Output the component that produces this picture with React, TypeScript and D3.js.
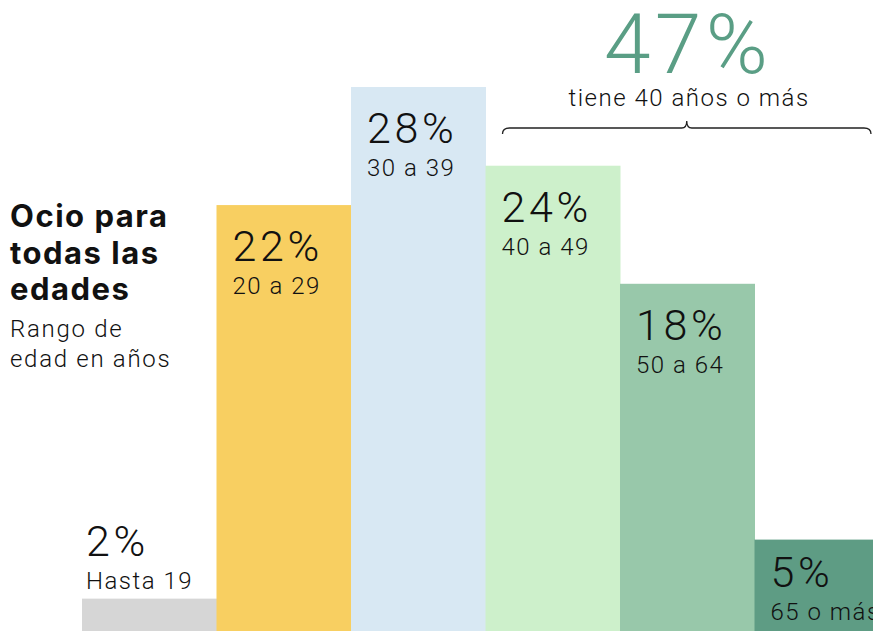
import * as d3 from "d3";

// Age ranges and share of each (in %)
const ranges = ["Hasta 19", "20 a 29", "30 a 39", "40 a 49", "50 a 64", "65 o más"];
const shares = [2, 22, 28, 24, 18, 5];
const barColors = ["#d6d6d6", "#f8cf61", "#d8e8f3", "#cdf0cb", "#98c8aa", "#5e9c84"];

const titleLines = ["Ocio para", "todas las", "edades"];
const subtitleLines = ["Rango de", "edad en años"];
const highlightValue = "47%";
const highlightText = "tiene 40 años o más";

const W = 873;
const H = 631;

const thin = "Roboto, 'Helvetica Neue', sans-serif";

export default function App() {
  // chart area runs past the bottom of the window, as in the original crop
  const x = d3.scaleBand<string>().domain(ranges).range([82, 889]).padding(0);
  const y = d3.scaleLinear().domain([0, 28]).range([638, 87]);

  // brace over the 40+ bars
  const bx0 = (x("40 a 49") ?? 0) + 17;
  const bx1 = W - 2;
  const bmid = (bx0 + bx1) / 2;
  const by = 128;
  const r = 5;
  const brace = d3.path();
  brace.moveTo(bx0, by + r + 1);
  brace.quadraticCurveTo(bx0, by, bx0 + r + 2, by);
  brace.lineTo(bmid - r, by);
  brace.quadraticCurveTo(bmid, by, bmid, by - 7);
  brace.quadraticCurveTo(bmid, by, bmid + r, by);
  brace.lineTo(bx1 - r - 2, by);
  brace.quadraticCurveTo(bx1, by, bx1, by + r + 1);

  return (
    <svg
      width={W}
      height={H}
      style={{ position: "absolute", left: 0, top: 0, background: "#fff" }}
    >
      {ranges.map((d, i) => {
        const x0 = x(d) ?? 0;
        const top = y(shares[i]);
        const barH = y(0) - top;
        const outside = i === 0;
        const tx = x0 + (outside ? 4 : 16);
        // short bars get their labels pulled up a little
        const inset = Math.min(56, barH * 0.48);
        const pY = outside ? top - 43 : top + inset;
        const lY = pY + 33;
        return (
          <g key={d}>
            <rect
              x={x0}
              y={top}
              width={x.bandwidth() + 0.5}
              height={barH}
              fill={barColors[i]}
            />
            <text
              x={tx}
              y={pY}
              fontFamily={thin}
              fontWeight={300}
              fontSize={43}
              letterSpacing={3.6}
              fill="#111"
            >
              {shares[i]}%
            </text>
            <text
              x={tx}
              y={lY}
              fontFamily={thin}
              fontWeight={300}
              fontSize={24}
              letterSpacing={1.5}
              fill="#111"
            >
              {d}
            </text>
          </g>
        );
      })}

      {titleLines.map((t, i) => (
        <text
          key={t}
          x={10}
          y={227 + i * 36.5}
          fontFamily="Inter, Lato, sans-serif"
          fontWeight={700}
          fontSize={31}
          letterSpacing={1.5}
          fill="#111"
        >
          {t}
        </text>
      ))}
      {subtitleLines.map((t, i) => (
        <text
          key={t}
          x={10}
          y={337 + i * 30}
          fontFamily={thin}
          fontWeight={300}
          fontSize={24}
          letterSpacing={1.7}
          fill="#111"
        >
          {t}
        </text>
      ))}

      <text
        x={688}
        y={73}
        textAnchor="middle"
        fontFamily={thin}
        fontWeight={300}
        fontSize={84}
        letterSpacing={4.3}
        fill="#5a9e85"
      >
        {highlightValue}
      </text>
      <text
        x={689}
        y={106}
        textAnchor="middle"
        fontFamily={thin}
        fontWeight={300}
        fontSize={24}
        letterSpacing={1.5}
        fill="#111"
      >
        {highlightText}
      </text>
      <path d={brace.toString()} fill="none" stroke="#222" strokeWidth={1.3} />
    </svg>
  );
}
